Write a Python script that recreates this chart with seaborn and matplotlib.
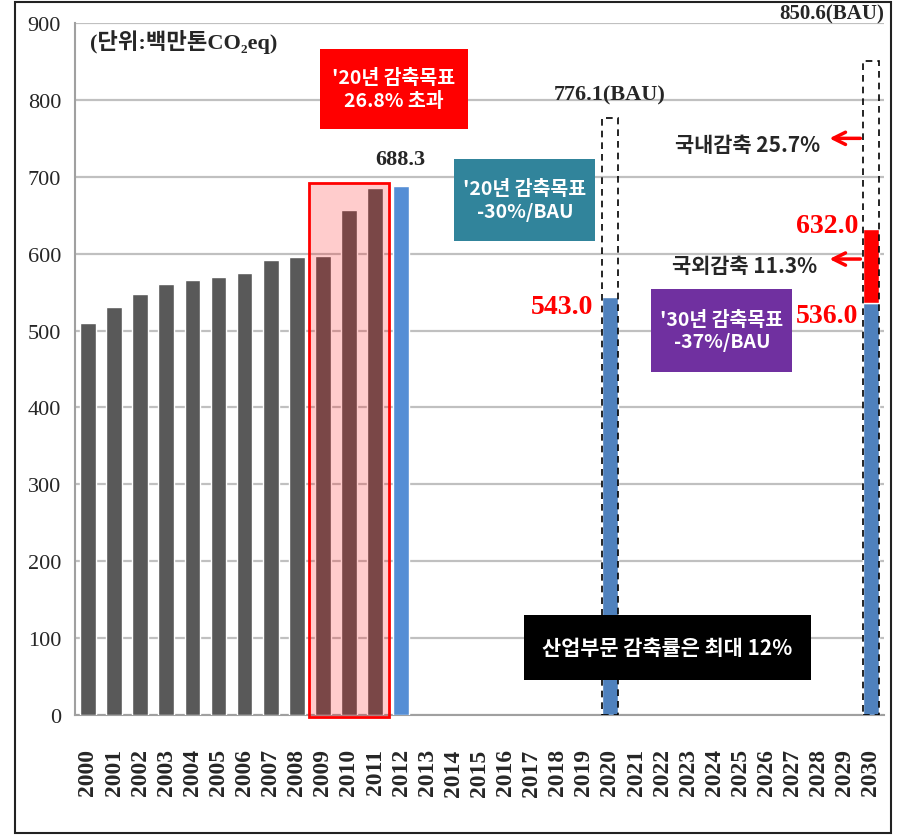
import numpy as np
import pandas as pd
import seaborn as sns
import matplotlib.pyplot as plt
from matplotlib.patches import Rectangle

# data
years = [str(y) for y in range(2000, 2031)]
hist_years = [str(y) for y in range(2000, 2013)]
hist_vals = [510, 530, 548, 560, 566, 570, 575, 592, 596, 597, 657, 686, 688.3]
target_years = ['2020', '2030']
target_vals = [543.0, 536.0]
bau_vals = [776.1, 850.6]
domestic_target = [543.0, 632.0]   # 2030: 632.0 before overseas cut

sns.set_style('white')
plt.rcParams['font.family'] = ['Liberation Serif', 'Noto Sans CJK KR']
KR = ['Noto Sans CJK KR', 'DejaVu Sans']

df = pd.DataFrame({
    'year': hist_years + target_years,
    'value': hist_vals + target_vals,
    'group': ['past'] * 12 + ['latest'] + ['target'] * 2,
})
palette = {'past': '#595959', 'latest': '#558ed5', 'target': '#4f81bd'}

fig = plt.figure(figsize=(9.03, 8.37), dpi=100)
ax = fig.add_axes([0.083, 0.1446, 0.896, 0.8267])

sns.barplot(data=df, x='year', y='value', hue='group', order=years, palette=palette,
            width=0.6, saturation=1, legend=False, ax=ax, zorder=3)

i20, i30 = years.index('2020'), years.index('2030')

# overseas reduction part of 2030 (536 -> 632)
ax.bar(i30, domestic_target[1] - target_vals[1], bottom=target_vals[1], width=0.6,
       color='#ff0000', zorder=3)
# BAU dashed outlines
ax.bar([i20, i30], bau_vals, width=0.62, fill=False, edgecolor='black',
       linestyle=(0, (4, 3)), linewidth=1.2, zorder=4)

# highlight 2009-2011
i09, i11 = years.index('2009'), years.index('2011')
ax.add_patch(Rectangle((i09 - 0.53, -3), (i11 - i09) + 1.06, 695, facecolor=(1, 0, 0, 0.2),
                       edgecolor='#ff0000', linewidth=2, zorder=5, clip_on=False))

# axes
ax.set_xlim(-0.5, len(years) - 0.5)
ax.set_ylim(0, 900)
ax.set_yticks(range(0, 901, 100))
ax.yaxis.grid(True, color='#c0c0c0', linewidth=1.6, zorder=0)
ax.set_axisbelow(True)
ax.set_xlabel('')
ax.set_ylabel('')
for s in ['top', 'right']:
    ax.spines[s].set_visible(False)
for s in ['left', 'bottom']:
    ax.spines[s].set_color('#a0a0a0')
    ax.spines[s].set_linewidth(1.5)
ax.tick_params(axis='y', length=6, color='#a0a0a0', labelsize=16, pad=4)
ax.set_xticks(range(len(years)))
ax.set_xticklabels(years, rotation=90, fontsize=17, fontweight='bold')
ax.tick_params(axis='x', length=0, pad=24)
ax.set_xticks(np.arange(-0.5, len(years), 1), minor=True)
ax.tick_params(axis='x', which='minor', length=6, color='#a0a0a0')

# annotations
ax.text(0.07, 876, '(단위:백만톤CO₂eq)', fontsize=16, fontweight='bold', va='center', ha='left')


def box(cx, cy, w, h, color, lines, fs=14):
    ax.add_patch(Rectangle((cx - w / 2, cy - h / 2), w, h, facecolor=color,
                           edgecolor='none', zorder=6, clip_on=False))
    ax.text(cx, cy, lines, ha='center', va='center', color='white', fontsize=fs,
            fontweight='bold', family=KR, linespacing=1.25, zorder=7)


# widths in category units, heights in value units (26.1 px / cat, 0.769 px / unit)
box(11.72, 814, 5.67, 104, '#ff0000', "'20년 감축목표\n26.8% 초과")
box(16.74, 670, 5.40, 107, '#31849b', "'20년 감축목표\n-30%/BAU")
box(24.29, 500, 5.40, 107, '#7030a0', "'30년 감축목표\n-37%/BAU")
box(22.20, 88, 11.0, 85, '#000000', '산업부문 감축률은 최대 12%', fs=15)

ax.text(11.95, 723, f'{hist_vals[-1]:.1f}', ha='center', va='center', fontsize=16,
        fontweight='bold', zorder=7)
ax.text(i20, 807, f'{bau_vals[0]:.1f}(BAU)', ha='center', va='center', fontsize=16,
        fontweight='bold', zorder=7)
ax.text(28.5, 912, f'{bau_vals[1]:.1f}(BAU)', ha='center', va='center', fontsize=15,
        fontweight='bold', zorder=7, clip_on=False)
ax.text(19.35, 531, f'{target_vals[0]:.1f}', ha='right', va='center', fontsize=20,
        fontweight='bold', color='#ff0000', zorder=7)
ax.text(29.5, 637, f'{domestic_target[1]:.1f}', ha='right', va='center', fontsize=20,
        fontweight='bold', color='#ff0000', zorder=7)
ax.text(29.5, 520, f'{target_vals[1]:.1f}', ha='right', va='center', fontsize=20,
        fontweight='bold', color='#ff0000', zorder=7)

ax.text(25.28, 742, '국내감축 25.7%', ha='center', va='center', fontsize=15,
        fontweight='bold', family=KR, zorder=7)
ax.text(25.17, 585, '국외감축 11.3%', ha='center', va='center', fontsize=15,
        fontweight='bold', family=KR, zorder=7)
for yy in [750, 593]:
    ax.annotate('', xy=(28.3, yy), xytext=(29.7, yy),
                arrowprops=dict(arrowstyle='->', color='#ff0000', lw=2.5, mutation_scale=22),
                zorder=7)

# outer frame
fig.patches.append(Rectangle((15 / 903, 3 / 837), 876 / 903, 831 / 837, transform=fig.transFigure,
                             fill=False, edgecolor='#222222', linewidth=1.5))

fig.savefig('out.png', dpi=100)
